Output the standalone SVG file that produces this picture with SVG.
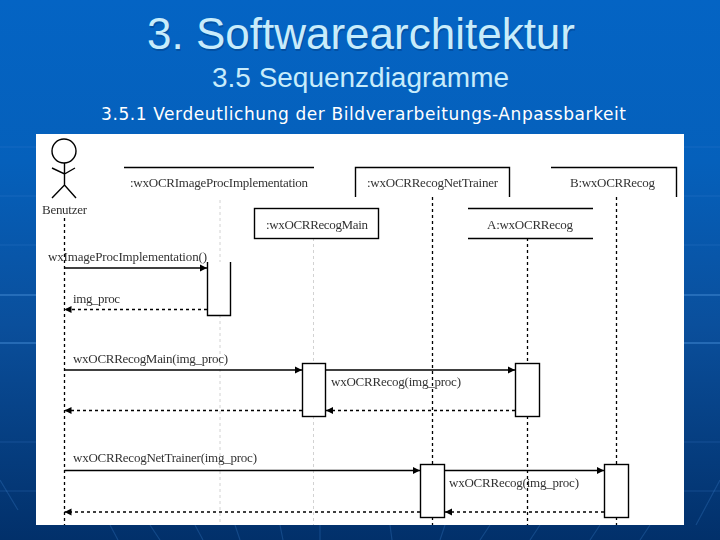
<svg xmlns="http://www.w3.org/2000/svg" width="720" height="540" viewBox="0 0 720 540">
<style>
.ln{stroke:#000;stroke-width:1.4;fill:none}
.dash{stroke:#000;stroke-width:1.3;stroke-dasharray:3 3;fill:none}
.faint{stroke:#d2d2d2;stroke-width:1;stroke-dasharray:3 3;fill:none}
.box{fill:#fff;stroke:#000;stroke-width:1.4}
.t{font-family:"Liberation Serif",serif;font-size:13px;fill:#333}
.h{font-family:"Liberation Sans",sans-serif;fill:#c8ecfb;text-anchor:middle}
.g1{stroke:#3f86cf;stroke-width:1.5;opacity:.7;fill:none}
.g2{stroke:#3f86cf;stroke-width:1.2;opacity:.28;fill:none}
</style>
<defs>
<linearGradient id="bg" x1="0" y1="0" x2="0" y2="1">
<stop offset="0" stop-color="#0464c4"/><stop offset=".3" stop-color="#0560bb"/><stop offset=".6" stop-color="#0a4f9c"/><stop offset="1" stop-color="#02306a"/>
</linearGradient>
<marker id="a" markerWidth="8" markerHeight="8" refX="7" refY="4" orient="auto" markerUnits="userSpaceOnUse"><path d="M0 .5L7 4L0 7.500Z" fill="#000"/></marker>
<filter id="soft" x="-5%" y="-30%" width="110%" height="160%"><feGaussianBlur stdDeviation="0.35"/></filter>
</defs>
<rect id="background" width="720" height="540" fill="url(#bg)"/>
<path class="g1" d="M0 295H36M0 343H36M684 295H720M684 343H720"/>
<path class="g2" d="M0 147H36M0 196H36M0 245H36M0 442H36M0 491H36M684 147H720M684 196H720M684 245H720M684 442H720M684 491H720"/>
<path class="g2" d="M110 525L118 540M150 525L160 540M195 525L203 540M235 525L240 540M280 525L283 540M320 525V540M392 540L390 525M440 540L445 525M480 540L490 525M530 540L540 525M590 540L600 525M640 540L650 525M0 480L18 510M696 525L720 480"/>
<g id="titles">
<text class="h" x="362" y="50.500" font-size="44" textLength="428" lengthAdjust="spacingAndGlyphs" style="fill:#003a80" fill-opacity=".45">3. Softwarearchitektur</text>
<text class="h" x="361" y="49" font-size="44" textLength="428" lengthAdjust="spacingAndGlyphs">3. Softwarearchitektur</text>
<text class="h" x="360.500" y="87" font-size="27" textLength="297" lengthAdjust="spacingAndGlyphs">3.5 Sequenzdiagramme</text>
<text x="363.500" y="120" font-size="17" text-anchor="middle" textLength="525" lengthAdjust="spacing" fill="#fff" style="font-family:'DejaVu Sans',sans-serif">3.5.1 Verdeutlichung der Bildverarbeitungs-Anpassbarkeit</text>
</g>
<rect id="canvas" x="36" y="134" width="648" height="391" fill="#fff"/>
<g id="connectors">
<path class="dash" d="M64.500 218V525M432.500 197V464M432.500 517V525M527.500 238V363M527.500 416V525M616.500 197V464M616.500 517V525"/>
<path class="faint" d="M220 200V262M220 315V525M313.500 238V363M313.500 416V525"/>
<path class="ln" marker-end="url(#a)" d="M64.500 268H207"/>
<path class="dash" marker-end="url(#a)" d="M207 309.500H64.500"/>
<path class="ln" marker-end="url(#a)" d="M64.500 370H302"/>
<path class="ln" marker-end="url(#a)" d="M326 370H515"/>
<path class="dash" marker-end="url(#a)" d="M515 410.500H326"/>
<path class="dash" marker-end="url(#a)" d="M302 410.500H64.500"/>
<path class="ln" marker-end="url(#a)" d="M64.500 470.500H420"/>
<path class="ln" marker-end="url(#a)" d="M445 470.500H604"/>
<path class="dash" marker-end="url(#a)" d="M604 512H445"/>
<path class="dash" marker-end="url(#a)" d="M420 512H64.500"/>
</g>
<g id="actor">
<circle class="ln" cx="64" cy="151" r="12"/>
<path class="ln" d="M64.500 163V185M52 168L64.500 174L75 168M52 198L64.500 185L76 198"/>
<text class="t" x="42" y="214" textLength="45" filter="url(#soft)">Benutzer</text>
</g>
<g id="node-imageproc">
<path class="ln" d="M124 167.500H314"/>
<text class="t" x="130" y="187" textLength="178" filter="url(#soft)">:wxOCRImageProcImplementation</text>
</g>
<g id="node-nettrainer">
<path class="ln" d="M355.500 197V167.500H509.500V197"/>
<text class="t" x="367" y="187" textLength="131" filter="url(#soft)">:wxOCRRecogNetTrainer</text>
</g>
<g id="node-b">
<path class="ln" d="M551 167.500H676.500V197"/>
<text class="t" x="570" y="187" textLength="85" filter="url(#soft)">B:wxOCRRecog</text>
</g>
<g id="node-main">
<rect class="box" x="254.500" y="208.500" width="124" height="30"/>
<text class="t" x="266" y="229" textLength="102" filter="url(#soft)">:wxOCRRecogMain</text>
</g>
<g id="node-a">
<path class="ln" d="M468 208.500H593M468 238.500H593"/>
<text class="t" x="487" y="229" textLength="86" filter="url(#soft)">A:wxOCRRecog</text>
</g>
<g id="activations">
<path class="ln" d="M207.500 262V315.500H230.500V262"/>
<rect class="box" x="302.500" y="363.500" width="23" height="53"/>
<rect class="box" x="515.500" y="363.500" width="24" height="53"/>
<rect class="box" x="420.500" y="464.500" width="24" height="53"/>
<rect class="box" x="604.500" y="464.500" width="24" height="53"/>
</g>
<g id="labels" filter="url(#soft)">
<text class="t" x="48" y="261" textLength="159">wxImageProcImplementation()</text>
<text class="t" x="73" y="303" textLength="47">img_proc</text>
<text class="t" x="73" y="363" textLength="155">wxOCRRecogMain(img_proc)</text>
<text class="t" x="331" y="386" textLength="130">wxOCRRecog(img_proc)</text>
<text class="t" x="73" y="462" textLength="184">wxOCRRecogNetTrainer(img_proc)</text>
<text class="t" x="449" y="487" textLength="130">wxOCRRecog(img_proc)</text>
</g>
</svg>
